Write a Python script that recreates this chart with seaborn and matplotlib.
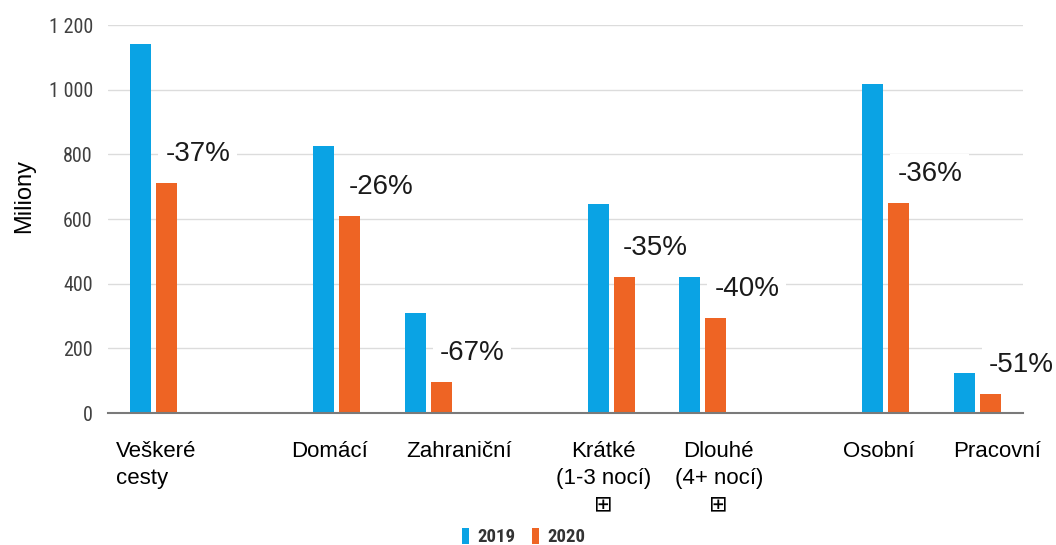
import matplotlib
matplotlib.use("Agg")
import matplotlib.pyplot as plt
import matplotlib.ticker as mticker
import matplotlib.transforms as mtransforms
import seaborn as sns
import pandas as pd

# ---- data ----
categories = ["Veškeré\ncesty", "Domácí", "Zahraniční",
              "Krátké\n(1-3 nocí)\n⊞", "Dlouhé\n(4+ nocí)\n⊞",
              "Osobní", "Pracovní"]
groups = [[0], [1, 2], [3, 4], [5, 6]]  # category indices grouped
values_2019 = [1141, 825, 310, 646, 420, 1017, 124]
values_2020 = [712, 609, 96, 420, 294, 649, 59]
change_labels = ["-37%", "-26%", "-67%", "-35%", "-40%", "-36%", "-51%"]
years = ["2019", "2020"]
yticks = [0, 200, 400, 600, 800, 1000, 1200]

# horizontal nudges of the category labels (pixels), as in the original
label_nudge_px = [2, -7, 31, -8, 16, -7, 20]

# ---- build long-form table ----
df = pd.DataFrame({
    "kategorie": categories * 2,
    "rok": [years[0]] * len(categories) + [years[1]] * len(categories),
    "hodnota": values_2019 + values_2020,
})

order = []
for gi, g in enumerate(groups):
    if gi > 0:
        order.append(" " * gi)
    order.extend(categories[i] for i in g)

sns.set_theme(style="white")
plt.rcParams["font.family"] = ["Liberation Sans", "DejaVu Sans"]

BLUE = "#0aa3e4"
ORANGE = "#ee6424"
NARROW = ["Roboto Condensed", "DejaVu Sans"]

fig = plt.figure(figsize=(10.56, 5.45), dpi=100)
ax = fig.add_axes([0.1023, 0.2422, 0.8665, 0.7119])

sns.barplot(data=df, x="kategorie", y="hodnota", hue="rok", order=order,
            hue_order=years, palette=[BLUE, ORANGE], width=0.57, gap=0.19,
            ax=ax, saturation=1, linewidth=0)

ax.set_ylim(0, 1200)
ax.set_xlim(-0.5, len(order) - 0.5)
ax.set_yticks(yticks)
ax.yaxis.set_major_formatter(mticker.FuncFormatter(
    lambda v, p: f"{int(v):,}".replace(",", " ")))
ax.set_axisbelow(True)
ax.yaxis.grid(True, color="#dcdcdc", linewidth=1.0)
ax.xaxis.grid(False)
for s in ["top", "right", "left"]:
    ax.spines[s].set_visible(False)
ax.spines["bottom"].set_color("#7a7a7a")
ax.spines["bottom"].set_linewidth(1.5)
ax.spines["bottom"].set_zorder(3)

ax.tick_params(axis="y", length=0, pad=11, labelsize=14.5, labelcolor="#404040")
for t in ax.get_yticklabels():
    t.set_family(NARROW)
    t.set_fontstretch("condensed")
ax.tick_params(axis="x", length=0, pad=20, labelsize=16, labelcolor="black")

ax.set_xticks(range(len(order)))
ax.set_xticklabels([o if o.strip() else "" for o in order])
cat_nudge = dict(zip(categories, label_nudge_px))
for t, o in zip(ax.get_xticklabels(), order):
    t.set_linespacing(1.4)
    t.set_verticalalignment("top")
    if o.startswith("Veškeré"):
        t.set_multialignment("left")
    if o in cat_nudge:
        t.set_transform(t.get_transform() + mtransforms.ScaledTranslation(
            cat_nudge[o] / 100, 0, fig.dpi_scale_trans))

ax.set_xlabel("")
ax.set_ylabel("Miliony", fontsize=17, color="black")
ax.yaxis.set_label_coords(-0.080, 0.56)

# percentage labels above 2020 bars
label_map = dict(zip(categories, change_labels))
cont = ax.containers[1]
for bar in cont:
    h = bar.get_height()
    if not h or h != h:
        continue
    idx = int(round(bar.get_x() + bar.get_width() / 2))
    cat = order[idx]
    ax.annotate(label_map[cat], xy=(bar.get_x(), h), xytext=(6.5, 21),
                textcoords="offset points", ha="left", va="center",
                fontsize=20, color="#1a1a1a", zorder=0.8,
                bbox=dict(fc="white", ec="none", pad=5))

# legend
handles, labels = ax.get_legend_handles_labels()
if ax.legend_:
    ax.legend_.remove()
fig.legend(handles, labels, loc="center", bbox_to_anchor=(0.496, 0.0147),
           ncol=2, frameon=False, handlelength=0.35, handleheight=1.0,
           handletextpad=0.45, columnspacing=0.9,
           prop={"family": NARROW, "stretch": "condensed",
                 "weight": "bold", "size": 13.5})
for txt in fig.legends[0].get_texts():
    txt.set_color("#333333")

fig.savefig("out.png", dpi=100)
